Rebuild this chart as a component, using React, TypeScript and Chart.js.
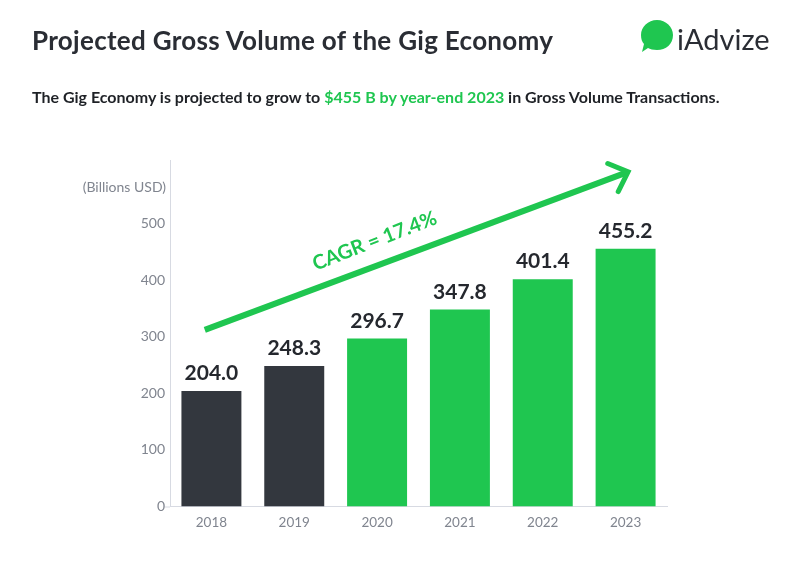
import React, { useEffect, useRef } from "react";
import { Chart, registerables } from "chart.js";
Chart.register(...registerables);

const categories = ["2018", "2019", "2020", "2021", "2022", "2023"];
const values = [204.0, 248.3, 296.7, 347.8, 401.4, 455.2];
const projected = [false, false, true, true, true, true];
const yTicks = [0, 100, 200, 300, 400, 500];
const yMax = 612;
const cagrLabel = "CAGR = 17.4%";
const yUnitLabel = "(Billions USD)";
// arrow annotation in data space: [category index, value]
const arrowFrom = [-0.08, 312];
const arrowTo = [5.03, 591];
const cagrAt = [1.97, 469];

const DARK = "#33373e";
const GREEN = "#1fc650";
const TEXT = "#25282e";
const GRAY = "#80858f";
const AXIS = "#d7dae2";
const FONT = "Lato, 'DejaVu Sans', sans-serif";

const overlay = {
  id: "overlay",
  afterDatasetsDraw(chart: any) {
    const { ctx, scales, chartArea } = chart;
    const x = scales.x;
    const y = scales.y;
    const meta = chart.getDatasetMeta(0);
    ctx.save();
    // value labels
    ctx.font = `bold 21px ${FONT}`;
    ctx.fillStyle = TEXT;
    ctx.textAlign = "center";
    ctx.textBaseline = "alphabetic";
    meta.data.forEach((bar: any, i: number) => {
      ctx.fillText(values[i].toFixed(1), bar.x, bar.y - 11);
    });
    // unit label
    ctx.font = `14px ${FONT}`;
    ctx.fillStyle = GRAY;
    ctx.textAlign = "right";
    ctx.textBaseline = "middle";
    ctx.fillText(yUnitLabel, chartArea.left - 4, y.getPixelForValue(563));
    // short extension of the x axis line to the left
    ctx.strokeStyle = AXIS;
    ctx.lineWidth = 1;
    ctx.beginPath();
    ctx.moveTo(chartArea.left - 5, chartArea.bottom + 0.5);
    ctx.lineTo(chartArea.left, chartArea.bottom + 0.5);
    ctx.stroke();
    // arrow
    const x0 = x.getPixelForValue(arrowFrom[0]);
    const y0 = y.getPixelForValue(arrowFrom[1]);
    const x1 = x.getPixelForValue(arrowTo[0]);
    const y1 = y.getPixelForValue(arrowTo[1]);
    const ang = Math.atan2(y1 - y0, x1 - x0);
    ctx.strokeStyle = GREEN;
    ctx.lineWidth = 6;
    ctx.lineCap = "butt";
    ctx.beginPath();
    ctx.moveTo(x0, y0);
    ctx.lineTo(x1 - 2 * Math.cos(ang), y1 - 2 * Math.sin(ang));
    ctx.stroke();
    const head = 22;
    ctx.lineCap = "round";
    ctx.lineJoin = "miter";
    ctx.lineWidth = 5;
    ctx.beginPath();
    ctx.moveTo(x1 - head * Math.cos(ang - 0.75), y1 - head * Math.sin(ang - 0.75));
    ctx.lineTo(x1, y1);
    ctx.lineTo(x1 - head * Math.cos(ang + 0.75), y1 - head * Math.sin(ang + 0.75));
    ctx.stroke();
    // CAGR text
    const tx = x.getPixelForValue(cagrAt[0]);
    const ty = y.getPixelForValue(cagrAt[1]);
    ctx.translate(tx, ty);
    ctx.rotate(ang - 0.012);
    ctx.font = `bold 20px ${FONT}`;
    ctx.fillStyle = GREEN;
    ctx.textAlign = "center";
    ctx.textBaseline = "middle";
    ctx.fillText(cagrLabel, 0, 0);
    ctx.restore();
  },
};

function BarChart() {
  const ref = useRef<HTMLCanvasElement | null>(null);
  useEffect(() => {
    if (!ref.current) return;
    const chart = new Chart(ref.current, {
      type: "bar",
      data: {
        labels: categories,
        datasets: [
          {
            data: values,
            backgroundColor: projected.map((p) => (p ? GREEN : DARK)),
            borderWidth: 0,
            barPercentage: 0.724,
            categoryPercentage: 1,
          },
        ],
      },
      options: {
        animation: false,
        responsive: false,
        maintainAspectRatio: false,
        layout: { padding: { left: 110, top: 160, right: 133, bottom: 15.5 } },
        plugins: {
          legend: { display: false },
          tooltip: { enabled: false },
          title: { display: false },
        },
        scales: {
          x: {
            grid: { display: false, drawTicks: false },
            border: { display: true, color: AXIS, width: 1 },
            ticks: { color: GRAY, font: { family: FONT, size: 13.5 }, padding: 8 },
            afterFit: (s: any) => {
              s.height = 40;
            },
          },
          y: {
            min: 0,
            max: yMax,
            afterBuildTicks: (s: any) => {
              s.ticks = yTicks.map((v) => ({ value: v }));
            },
            grid: { display: false, drawTicks: false },
            border: { display: true, color: AXIS, width: 1 },
            ticks: { color: GRAY, font: { family: FONT, size: 14 }, padding: 5 },
            afterFit: (s: any) => {
              s.width = 60;
            },
          },
        },
      },
      plugins: [overlay],
    } as any);
    return () => chart.destroy();
  }, []);
  return (
    <canvas
      ref={ref}
      width={800}
      height={562}
      style={{ position: "absolute", left: 0, top: 0, width: 800, height: 562 }}
    />
  );
}

export default function App() {
  return (
    <div
      style={{
        position: "fixed",
        left: 0,
        top: 0,
        width: 800,
        height: 562,
        background: "#ffffff",
        fontFamily: FONT,
        overflow: "hidden",
      }}
    >
      <BarChart />
      <div
        style={{
          position: "absolute",
          left: 32,
          top: 24.5,
          fontSize: 26,
          lineHeight: 1.2,
          fontWeight: 700,
          letterSpacing: 0.3,
          color: "#2a2d34",
          whiteSpace: "nowrap",
        }}
      >
        Projected Gross Volume of the Gig Economy
      </div>
      <div
        style={{
          position: "absolute",
          left: 32,
          top: 87,
          fontSize: 16,
          lineHeight: 1.2,
          fontWeight: 700,
          color: "#1e2126",
          whiteSpace: "nowrap",
        }}
      >
        The Gig Economy is projected to grow to{" "}
        <span style={{ color: GREEN }}>$455 B by year-end 2023</span> in Gross Volume Transactions.
      </div>
      <svg
        width={34}
        height={34}
        viewBox="0 0 34 34"
        style={{ position: "absolute", left: 640, top: 19 }}
      >
        <path
          d="M17 1 C26 1 33 8 33 16 C33 25 26 31 17 31 C13 31 10 30 8 29 L2 33 L4 25 C2 23 1 20 1 16 C1 8 8 1 17 1 Z"
          fill={GREEN}
        />
      </svg>
      <div
        style={{
          position: "absolute",
          left: 677,
          top: 22,
          fontSize: 29,
          lineHeight: 1.2,
          fontWeight: 400,
          color: "#2a2d34",
          whiteSpace: "nowrap",
        }}
      >
        iAdvize
      </div>
    </div>
  );
}
